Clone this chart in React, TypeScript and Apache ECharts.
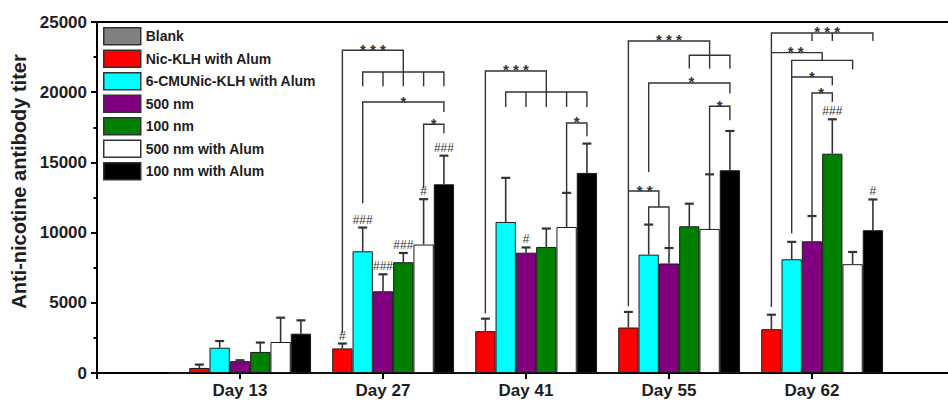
import React, { useEffect, useRef } from 'react';
import * as echarts from 'echarts';

// ---------- data ----------
const CATEGORIES = ['Day 13', 'Day 27', 'Day 41', 'Day 55', 'Day 62'];
const SERIES_NAMES = [
  'Blank',
  'Nic-KLH with Alum',
  '6-CMUNic-KLH with Alum',
  '500 nm',
  '100 nm',
  '500 nm with Alum',
  '100 nm with Alum',
];
const SERIES_COLORS = ['#808080', '#ff0000', '#00ffff', '#800080', '#008000', '#ffffff', '#000000'];

const BLANK = [0, 0, 0, 0, 0];
const BLANK_ERR = [0, 0, 0, 0, 0];
const NIC_KLH = [360, 1750, 2980, 3240, 3120];
const NIC_KLH_ERR = [240, 350, 890, 1110, 1030];
const CMU_NIC = [1800, 8670, 10760, 8430, 8100];
const CMU_NIC_ERR = [480, 1690, 3140, 2140, 1240];
const NM500 = [840, 5820, 8570, 7800, 9380];
const NM500_ERR = [70, 1210, 370, 1100, 1800];
const NM100 = [1500, 7890, 8980, 10450, 15620];
const NM100_ERR = [670, 660, 1310, 1610, 2450];
const NM500_ALUM = [2210, 9150, 10400, 10260, 7750];
const NM500_ALUM_ERR = [1730, 3230, 2430, 3890, 870];
const NM100_ALUM = [2800, 13440, 14250, 14440, 10170];
const NM100_ALUM_ERR = [950, 2040, 2090, 2800, 2190];

const MEANS = [BLANK, NIC_KLH, CMU_NIC, NM500, NM100, NM500_ALUM, NM100_ALUM];
const ERRORS = [BLANK_ERR, NIC_KLH_ERR, CMU_NIC_ERR, NM500_ERR, NM100_ERR, NM500_ALUM_ERR, NM100_ALUM_ERR];

const Y_MIN = 0;
const Y_MAX = 25000;
const Y_STEP = 5000;

// significance marks above single bars: day, series index, text
const HASHES: { day: string; series: number; text: string }[] = [
  { day: 'Day 27', series: 1, text: '#' },
  { day: 'Day 27', series: 2, text: '###' },
  { day: 'Day 27', series: 3, text: '###' },
  { day: 'Day 27', series: 4, text: '###' },
  { day: 'Day 27', series: 5, text: '#' },
  { day: 'Day 27', series: 6, text: '###' },
  { day: 'Day 41', series: 3, text: '#' },
  { day: 'Day 62', series: 4, text: '###' },
  { day: 'Day 62', series: 6, text: '#' },
];

// comparison brackets: points are [series slot, titer value]
type Pt = [number, number];
const BRACKETS: { day: string; mark: string; at: Pt; lines: Pt[][] }[] = [
  // Day 27
  {
    day: 'Day 27', mark: '* * *', at: [2.5, 22990],
    lines: [
      [[1, 2830], [1, 22990], [4, 22990], [4, 21440]],
      [[2, 20420], [2, 21440], [6, 21440], [6, 20420]],
      [[3, 21440], [3, 20420]],
      [[4, 21440], [4, 20420]],
      [[5, 21440], [5, 20420]],
    ],
  },
  { day: 'Day 27', mark: '*', at: [4, 19300], lines: [[[2, 12090], [2, 19300], [6, 19300], [6, 18590]]] },
  { day: 'Day 27', mark: '*', at: [5.5, 17715], lines: [[[5, 13160], [5, 17715], [6, 17715], [6, 17070]]] },
  // Day 41
  {
    day: 'Day 41', mark: '* * *', at: [2.5, 21510],
    lines: [
      [[1, 4250], [1, 21510], [4, 21510], [4, 20015]],
      [[2, 18950], [2, 20015], [6, 20015], [6, 18950]],
      [[3, 20015], [3, 18950]],
      [[4, 20015], [4, 18950]],
      [[5, 20015], [5, 18950]],
    ],
  },
  { day: 'Day 41', mark: '*', at: [5.5, 17810], lines: [[[5, 12830], [5, 17810], [6, 17810], [6, 16860]]] },
  // Day 55
  {
    day: 'Day 55', mark: '* * *', at: [3, 23650],
    lines: [
      [[1, 4750], [1, 23650], [5, 23650], [5, 22630]],
      [[4, 21680], [4, 22630], [6, 22630], [6, 21680]],
      [[5, 22630], [5, 21680]],
    ],
  },
  {
    day: 'Day 55', mark: '* *', at: [1.8, 12960],
    lines: [
      [[1, 12960], [2.5, 12960], [2.5, 11820]],
      [[2, 10570], [2, 11820], [3, 11820], [3, 8900]],
    ],
  },
  { day: 'Day 55', mark: '*', at: [4.1, 20660], lines: [[[2, 14320], [2, 20660], [6, 20660], [6, 19900]]] },
  { day: 'Day 55', mark: '*', at: [5.5, 19000], lines: [[[5, 14150], [5, 19000], [6, 19000], [6, 18000]]] },
  // Day 62
  {
    day: 'Day 62', mark: '* * *', at: [3.75, 24220],
    lines: [
      [[1, 4700], [1, 24220], [6, 24220], [6, 23650]],
      [[3, 24220], [3, 23650]],
      [[4, 24220], [4, 23650]],
    ],
  },
  {
    day: 'Day 62', mark: '* *', at: [2.2, 22820],
    lines: [
      [[1, 22820], [3.5, 22820], [3.5, 22270]],
      [[2, 9950], [2, 22270], [5, 22270], [5, 21610]],
    ],
  },
  { day: 'Day 62', mark: '*', at: [3, 21080], lines: [[[2, 21080], [4, 21080], [4, 20490]]] },
  { day: 'Day 62', mark: '*', at: [3.45, 19940], lines: [[[3, 11230], [3, 19940], [4, 19940], [4, 19300]]] },
];

// ---------- layout helpers ----------
const SLOT = 0.142; // bar width as a fraction of one category step
const FONT = "'Liberation Sans', Arial, Helvetica, sans-serif";
const INK = '#1e1e1e';
const LINE = '#333333';

const dayPos = (day: string) => CATEGORIES.indexOf(day) + 1;
const xOf = (g: number, slot: number) => g + (slot - 3) * SLOT;

function buildOption(): any {
  const barSeries = SERIES_NAMES.map((name, si) => ({
    name,
    type: 'bar',
    barWidth: `${SLOT * 100}%`,
    barGap: '0%',
    data: MEANS[si].map((v, gi) => [gi + 1, v]),
    itemStyle: { color: SERIES_COLORS[si], borderColor: '#1a1a1a', borderWidth: 1 },
    emphasis: { disabled: true },
    z: 2,
  }));

  const errorData: number[][] = [];
  MEANS.forEach((arr, si) =>
    arr.forEach((m, gi) => {
      const e = ERRORS[si][gi];
      if (e > 0) errorData.push([xOf(gi + 1, si), m, m + e]);
    })
  );

  const hashData = HASHES.map((h) => {
    const gi = CATEGORIES.indexOf(h.day);
    return [xOf(gi + 1, h.series), MEANS[h.series][gi] + ERRORS[h.series][gi]];
  });

  const bracketData = BRACKETS.map((b) => [xOf(dayPos(b.day), b.at[0]), b.at[1]]);

  return {
    animation: false,
    backgroundColor: '#ffffff',
    grid: { left: 97, top: 22, width: 858, height: 351, containLabel: false, outerBoundsMode: 'none' },
    legend: {
      data: SERIES_NAMES,
      orient: 'vertical',
      left: 103,
      top: 27,
      padding: 0,
      itemWidth: 37,
      itemHeight: 17,
      itemGap: 4,
      icon: 'rect',
      selectedMode: false,
      itemStyle: { borderColor: '#333', borderWidth: 1.5 },
      textStyle: { fontSize: 14, fontWeight: 'bold', color: INK, fontFamily: FONT },
    },
    xAxis: [
      {
        type: 'value',
        min: 0,
        max: 6,
        interval: 1,
        axisLine: { show: true, onZero: false, lineStyle: { color: '#000', width: 2 } },
        axisTick: { show: true, length: 6, lineStyle: { color: '#000', width: 2 } },
        axisLabel: {
          formatter: (v: number) =>
            Number.isInteger(v) && v >= 1 && v <= CATEGORIES.length ? CATEGORIES[v - 1] : '',
          fontSize: 17,
          fontWeight: 'bold',
          color: INK,
          fontFamily: FONT,
          margin: 9,
        },
        splitLine: { show: false },
      },
      {
        type: 'value',
        position: 'top',
        min: 0,
        max: 6,
        axisLine: { show: true, onZero: false, lineStyle: { color: '#000', width: 2 } },
        axisTick: { show: false },
        axisLabel: { show: false },
        splitLine: { show: false },
      },
    ],
    yAxis: {
      type: 'value',
      min: Y_MIN,
      max: Y_MAX,
      interval: Y_STEP,
      name: 'Anti-nicotine antibody titer',
      nameLocation: 'middle',
      nameRotate: 90,
      nameGap: 49,
      nameTextStyle: { fontSize: 20, fontWeight: 'bold', color: INK, fontFamily: FONT, padding: [0, 0, 0, 32] },
      axisLine: { show: true, lineStyle: { color: '#000', width: 2 } },
      axisTick: { show: true, length: 6, lineStyle: { color: '#000', width: 2 } },
      minorTick: { show: true, splitNumber: 2, length: 3.5, lineStyle: { color: '#000', width: 2 } },
      axisLabel: {
        formatter: (v: number) => String(v),
        fontSize: 17,
        fontWeight: 'bold',
        color: INK,
        fontFamily: FONT,
        margin: 10,
      },
      splitLine: { show: false },
      minorSplitLine: { show: false },
    },
    series: [
      ...barSeries,
      {
        type: 'custom',
        name: 'errors',
        silent: true,
        z: 5,
        data: errorData,
        encode: { x: 0, y: [1, 2] },
        renderItem: (_p: any, api: any) => {
          const x = api.value(0);
          const p0 = api.coord([x, api.value(1)]);
          const p1 = api.coord([x, api.value(2)]);
          return {
            type: 'group',
            children: [
              { type: 'line', shape: { x1: p0[0], y1: p0[1], x2: p1[0], y2: p1[1] }, style: { stroke: LINE, lineWidth: 1.6 } },
              { type: 'line', shape: { x1: p1[0] - 4.5, y1: p1[1], x2: p1[0] + 4.5, y2: p1[1] }, style: { stroke: LINE, lineWidth: 2.2 } },
            ],
          };
        },
      },
      {
        type: 'custom',
        name: 'hashes',
        silent: true,
        z: 6,
        data: hashData,
        encode: { x: 0, y: 1 },
        renderItem: (params: any, api: any) => {
          const p = api.coord([api.value(0), api.value(1)]);
          return {
            type: 'text',
            x: p[0],
            y: p[1] - 8,
            style: {
              text: HASHES[params.dataIndex].text,
              fill: LINE,
              fontSize: 12,
              fontFamily: FONT,
              align: 'center',
              verticalAlign: 'middle',
            },
          };
        },
      },
      {
        type: 'custom',
        name: 'brackets',
        silent: true,
        z: 6,
        data: bracketData,
        encode: { x: 0, y: 1 },
        renderItem: (params: any, api: any) => {
          const b = BRACKETS[params.dataIndex];
          const g = dayPos(b.day);
          const children: any[] = b.lines.map((ln) => ({
            type: 'polyline',
            shape: { points: ln.map(([s, v]) => api.coord([xOf(g, s), v])) },
            style: { stroke: LINE, lineWidth: 1.4, fill: null },
          }));
          const lp = api.coord([api.value(0), api.value(1)]);
          children.push({
            type: 'text',
            x: lp[0],
            y: lp[1] - 1,
            style: {
              text: b.mark,
              fill: LINE,
              fontSize: 15,
              fontWeight: 'bold',
              fontFamily: FONT,
              align: 'center',
              verticalAlign: 'middle',
            },
          });
          return { type: 'group', children };
        },
      },
    ],
  };
}

export default function App() {
  const ref = useRef<HTMLDivElement>(null);
  useEffect(() => {
    if (!ref.current) return;
    const chart = echarts.init(ref.current, null, { renderer: 'svg' });
    chart.setOption(buildOption());
    return () => chart.dispose();
  }, []);
  return (
    <div
      ref={ref}
      style={{ position: 'fixed', left: 0, top: 0, width: 948, height: 405, background: '#ffffff' }}
    />
  );
}
